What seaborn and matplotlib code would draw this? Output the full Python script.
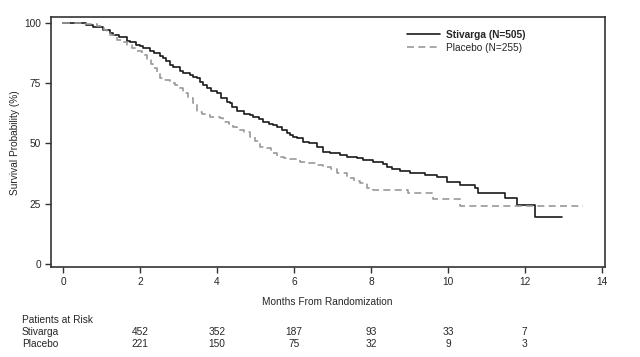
import numpy as np
import pandas as pd
import seaborn as sns
import matplotlib
matplotlib.use("Agg")
import matplotlib.pyplot as plt
from matplotlib.lines import Line2D
import matplotlib.transforms as mtransforms

#%% data (months, survival %)
stiv_t = [0, 0.35, 0.6, 0.78, 0.87, 1.04, 1.21, 1.3, 1.45, 1.65,
          1.73, 1.9, 1.99, 2.08, 2.25, 2.35, 2.51, 2.6, 2.68, 2.77,
          2.86, 3.03, 3.12, 3.29, 3.38, 3.47, 3.55, 3.64, 3.73, 3.85,
          3.99, 4.1, 4.25, 4.33, 4.4, 4.51, 4.7, 4.85, 4.94, 5.08,
          5.2, 5.35, 5.46, 5.55, 5.68, 5.81, 5.89, 5.98, 6.07, 6.24,
          6.4, 6.59, 6.76, 6.93, 7.19, 7.37, 7.63, 7.8, 8.06, 8.31,
          8.41, 8.54, 8.75, 9.01, 9.4, 9.71, 9.97, 10.31, 10.7, 10.79,
          11.48, 11.79, 12.26, 12.98]
stiv_s = [100, 99.7, 99.0, 98.3, 98.0, 96.9, 95.6, 94.8, 94.0, 92.5,
          92.1, 90.8, 90.2, 89.4, 88.1, 87.5, 86.1, 85.2, 84.0, 82.6,
          81.8, 79.9, 79.0, 78.4, 77.6, 77.0, 75.5, 74.2, 73.0, 71.8,
          70.7, 68.8, 67.3, 66.6, 65.0, 63.5, 62.3, 61.7, 61.0, 60.0,
          59.0, 58.0, 57.6, 56.9, 55.5, 54.2, 53.5, 52.8, 52.1, 50.7,
          50.0, 48.6, 46.5, 46.0, 45.2, 44.2, 43.8, 43.2, 42.4, 41.5,
          40.3, 39.5, 38.3, 37.6, 37.0, 36.2, 34.1, 32.7, 31.4, 29.3,
          27.2, 24.5, 19.4, 19.4]

plac_t = [0, 0.5, 0.87, 1.05, 1.13, 1.21, 1.39, 1.55, 1.65, 1.8,
          1.91, 2.05, 2.17, 2.27, 2.34, 2.43, 2.51, 2.6, 2.77, 2.9,
          3.03, 3.12, 3.25, 3.38, 3.47, 3.6, 3.73, 3.81, 4.07, 4.16,
          4.3, 4.42, 4.51, 4.7, 4.85, 4.98, 5.11, 5.29, 5.4, 5.55,
          5.75, 5.89, 6.15, 6.33, 6.59, 6.76, 6.95, 7.11, 7.37, 7.55,
          7.71, 7.89, 8.06, 8.97, 9.62, 10.31, 13.52]
plac_s = [100, 99.5, 98.6, 97.0, 95.7, 94.9, 93.0, 92.1, 90.9, 89.5,
          88.1, 86.5, 84.7, 83.0, 81.2, 79.7, 77.1, 76.3, 75.0, 74.2,
          72.9, 70.7, 68.8, 66.6, 63.1, 62.2, 61.7, 61.0, 60.4, 59.0,
          57.8, 56.9, 55.5, 54.5, 52.8, 51.0, 48.6, 47.9, 46.0, 44.5,
          43.8, 43.4, 42.4, 42.0, 40.8, 40.3, 39.2, 37.6, 35.5, 34.5,
          33.4, 31.4, 30.7, 29.3, 26.8, 24.0, 24.0]

risk_months = [2, 4, 6, 8, 10, 12]
risk_stiv = [452, 352, 187, 93, 33, 7]
risk_plac = [221, 150, 75, 32, 9, 3]

#%% plot
sns.set_style("ticks")
plt.rcParams['font.family'] = ['Liberation Sans', 'DejaVu Sans']
fs = 7.3
dash = (0, (4.2, 2.6))

fig = plt.figure(figsize=(6.4, 3.57), dpi=100)
ax = fig.add_axes([0.079, 0.2513, 0.866, 0.7002])

sns.lineplot(x=stiv_t, y=stiv_s, ax=ax, drawstyle="steps-post", color="#1a1a1a",
             linewidth=1.2, estimator=None, sort=False)
sns.lineplot(x=plac_t, y=plac_s, ax=ax, drawstyle="steps-post", color="#999999",
             linewidth=1.2, linestyle=dash, estimator=None, sort=False)

ax.set_xlim(-0.33, 14.08)
ax.set_ylim(-1.4, 102.2)
ax.set_xticks(range(0, 15, 2))
ax.set_yticks([0, 25, 50, 75, 100])
ax.tick_params(labelsize=fs, length=4, width=1.0, color="#333333", pad=3)
for sp in ax.spines.values():
    sp.set_visible(True)
    sp.set_color("#333333")
    sp.set_linewidth(1.2)

ax.set_xlabel("Months From Randomization", fontsize=fs, labelpad=7.5)
ax.set_ylabel("Survival Probability (%)", fontsize=fs, labelpad=3)

handles = [Line2D([], [], color="#1a1a1a", linewidth=1.2),
           Line2D([], [], color="#999999", linewidth=1.2, linestyle=dash)]
leg = ax.legend(handles, ["Stivarga (N=505)", "Placebo (N=255)"], loc="upper left",
                bbox_to_anchor=(0.643, 0.95), frameon=False, fontsize=fs,
                handlelength=3.3, handletextpad=0.6, borderpad=0, borderaxespad=0,
                labelspacing=0.3)
leg.get_texts()[0].set_fontweight("bold")

# patients at risk table
trans = mtransforms.blended_transform_factory(ax.transData, fig.transFigure)
fig.text(22 / 640, 1 - 320 / 357, "Patients at Risk", fontsize=fs, va="center")
fig.text(22 / 640, 1 - 332 / 357, "Stivarga", fontsize=fs, va="center")
fig.text(22 / 640, 1 - 344 / 357, "Placebo", fontsize=fs, va="center")
for m, a, b in zip(risk_months, risk_stiv, risk_plac):
    ax.text(m, 1 - 332 / 357, str(a), transform=trans, fontsize=fs, ha="center", va="center")
    ax.text(m, 1 - 344 / 357, str(b), transform=trans, fontsize=fs, ha="center", va="center")

plt.savefig("out.png", dpi=100)
